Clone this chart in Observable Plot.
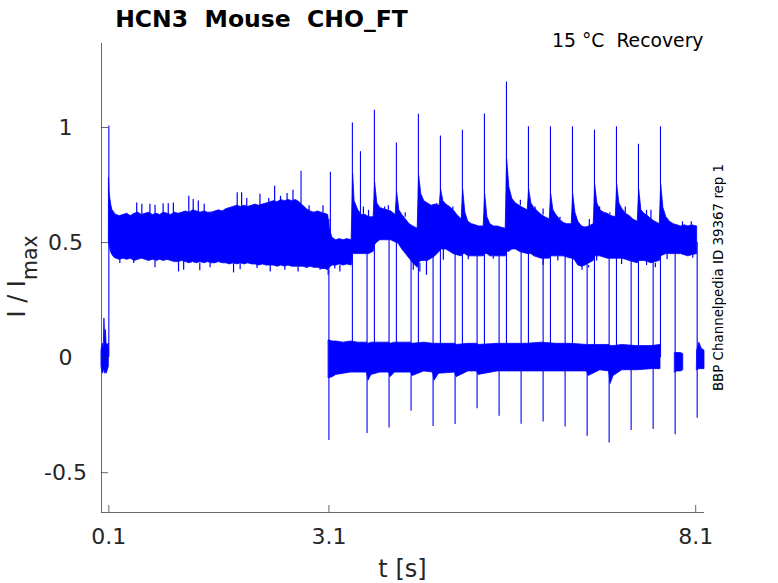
<!DOCTYPE html>
<html><head><meta charset="utf-8">
<script src="https://cdn.jsdelivr.net/npm/d3@7"></script>
<script src="https://cdn.jsdelivr.net/npm/@observablehq/plot@0.6"></script>
<style>html,body{margin:0;padding:0;background:#fff;} svg{display:block}</style>
</head><body><div id="chart"></div>
<script>
// ---- axes ----
const xDomain = [0, 8.22];
const yDomain = [-0.673, 1.365];
const xTicks = [0.1, 3.1, 8.1];
const yTicks = [-0.5, 0, 0.5, 1];

// ---- holding segment before the first step (t < 0.1 s) ----
const preT  = [0.000, 0.010, 0.020, 0.030, 0.040, 0.050, 0.060, 0.070, 0.080, 0.090, 0.100];
const preHi = [0.03, 0.05, 0.06, 0.04, 0.17, 0.08, 0.12, 0.05, 0.06, 0.05, 0.06];
const preLo = [-0.04, -0.06, -0.07, -0.06, -0.05, -0.07, -0.06, -0.07, -0.06, -0.05, -0.04];

// ---- upper current level (envelope of the noisy trace) ----
const upT  = [0.102,0.110,0.120,0.135,0.150,0.175,0.20,0.25,0.30,0.35,0.40,0.45,0.50,0.55,0.60,0.65,0.70,0.75,0.80,0.85,0.90,0.95,
  1.00,1.05,1.10,1.15,1.20,1.25,1.30,1.35,1.40,1.45,1.50,1.55,1.60,1.65,1.70,1.75,1.80,1.85,1.90,1.95,
  2.00,2.05,2.10,2.15,2.20,2.25,2.30,2.35,2.40,2.45,2.50,2.55,2.60,2.65,2.70,2.75,2.80,2.85,2.90,2.95,3.00,3.05,3.09,
  3.11,3.15,3.20,3.25,3.30,3.35,3.41,3.43,3.45,3.50,3.55,3.60,3.65,3.71,3.73,3.76,3.80,3.85,3.90,3.95,
  4.01,4.03,4.06,4.10,4.15,4.20,4.25,4.31,4.33,4.36,4.40,4.45,4.50,4.55,4.61,4.63,4.66,4.70,4.75,4.80,4.85,4.91,4.93,4.96,
  5.00,5.05,5.10,5.15,5.21,5.23,5.26,5.30,5.35,5.40,5.45,5.51,5.53,5.56,5.60,5.65,5.70,5.75,5.81,5.83,5.86,5.90,5.95,
  6.00,6.05,6.11,6.13,6.16,6.20,6.25,6.30,6.35,6.41,6.43,6.46,6.50,6.55,6.60,6.65,6.71,6.73,6.76,6.80,6.85,6.90,6.95,
  7.01,7.03,7.06,7.10,7.15,7.20,7.25,7.31,7.33,7.36,7.40,7.45,7.50,7.55,7.61,7.63,7.66,7.70,7.75,7.80,7.85,7.90,7.95,
  8.00,8.05,8.12];
const upHi = [0.78,0.72,0.69,0.66,0.64,0.63,0.62,0.615,0.62,0.625,0.615,0.625,0.63,0.62,0.625,0.63,0.62,0.625,0.62,0.63,0.625,0.62,
  0.63,0.625,0.63,0.635,0.63,0.64,0.635,0.63,0.635,0.63,0.63,0.635,0.64,0.635,0.645,0.65,0.655,0.66,0.655,0.66,
  0.655,0.66,0.665,0.66,0.665,0.67,0.675,0.68,0.675,0.685,0.68,0.685,0.68,0.685,0.675,0.66,0.645,0.635,0.63,0.635,0.63,0.625,0.62,
  0.56,0.52,0.51,0.515,0.51,0.515,0.51,0.80,0.68,0.64,0.62,0.62,0.61,0.61,0.76,0.67,0.65,0.645,0.64,0.635,
  0.62,0.72,0.64,0.62,0.60,0.58,0.57,0.56,0.79,0.71,0.68,0.67,0.66,0.665,0.66,0.73,0.68,0.665,0.655,0.64,0.62,0.60,0.73,0.63,
  0.59,0.58,0.575,0.57,0.57,0.71,0.61,0.58,0.57,0.57,0.565,0.56,0.86,0.74,0.69,0.67,0.66,0.65,0.64,0.73,0.67,0.65,0.635,
  0.62,0.61,0.60,0.71,0.64,0.62,0.60,0.585,0.58,0.58,0.71,0.63,0.59,0.57,0.565,0.57,0.58,0.75,0.67,0.64,0.63,0.625,0.615,
  0.61,0.75,0.67,0.645,0.625,0.615,0.60,0.59,0.73,0.64,0.625,0.615,0.60,0.59,0.58,0.75,0.65,0.61,0.59,0.58,0.575,0.57,0.575,
  0.57,0.575,0.57];
const upLo = [0.50,0.49,0.47,0.455,0.445,0.435,0.43,0.425,0.43,0.425,0.43,0.42,0.425,0.43,0.425,0.42,0.425,0.42,0.425,0.42,0.425,0.42,
  0.415,0.415,0.42,0.415,0.41,0.415,0.41,0.415,0.41,0.415,0.41,0.41,0.415,0.41,0.41,0.405,0.41,0.405,0.41,0.405,
  0.41,0.405,0.405,0.40,0.405,0.40,0.40,0.40,0.395,0.40,0.395,0.40,0.395,0.395,0.395,0.395,0.39,0.395,0.39,0.39,0.385,0.385,0.38,
  0.39,0.40,0.40,0.405,0.40,0.405,0.40,0.45,0.45,0.45,0.45,0.45,0.45,0.46,0.49,0.50,0.51,0.51,0.51,0.51,
  0.50,0.50,0.49,0.47,0.45,0.43,0.41,0.39,0.41,0.42,0.42,0.42,0.43,0.44,0.46,0.47,0.47,0.47,0.46,0.45,0.445,0.44,0.45,0.45,
  0.44,0.44,0.44,0.44,0.44,0.45,0.45,0.44,0.44,0.44,0.44,0.44,0.46,0.46,0.47,0.47,0.46,0.455,0.45,0.45,0.45,0.44,0.435,
  0.43,0.43,0.43,0.44,0.44,0.44,0.44,0.44,0.435,0.43,0.43,0.42,0.40,0.395,0.40,0.41,0.42,0.44,0.44,0.44,0.435,0.43,0.43,
  0.43,0.43,0.43,0.43,0.425,0.42,0.415,0.41,0.42,0.42,0.42,0.415,0.41,0.415,0.42,0.44,0.445,0.45,0.45,0.45,0.45,0.45,0.445,
  0.44,0.445,0.45];

// ---- lower (zero) current level: main stretch and two short stubs ----
const lowT   = [3.10,3.15,3.20,3.30,3.40,3.50,3.62,3.64,3.68,3.80,3.92,3.94,4.00,4.22,4.24,4.40,4.52,4.54,4.60,4.82,4.84,5.00,5.12,5.14,
  5.40,5.60,5.80,6.00,6.20,6.40,6.62,6.64,6.80,6.92,6.94,6.98,7.10,7.30,7.50,7.62,
  7.82,7.85,7.90,7.93,
  8.12,8.15,8.18,8.22];
const lowHi  = [0.075,0.07,0.07,0.065,0.07,0.065,0.065,0.06,0.065,0.065,0.065,0.06,0.065,0.065,0.06,0.065,0.06,0.06,0.06,0.06,0.055,0.06,0.06,0.055,
  0.06,0.06,0.06,0.065,0.06,0.06,0.055,0.055,0.055,0.055,0.05,0.05,0.055,0.05,0.05,0.055,
  0.02,0.02,0.02,0.015,
  0.03,0.065,0.04,0.03];
const lowLo  = [-0.09,-0.085,-0.075,-0.07,-0.065,-0.065,-0.065,-0.10,-0.075,-0.065,-0.065,-0.085,-0.065,-0.065,-0.08,-0.06,-0.065,-0.10,-0.07,-0.065,-0.085,-0.06,-0.06,-0.075,
  -0.06,-0.06,-0.06,-0.06,-0.06,-0.06,-0.06,-0.08,-0.055,-0.06,-0.115,-0.08,-0.055,-0.055,-0.05,-0.05,
  -0.065,-0.06,-0.06,-0.055,
  -0.055,-0.05,-0.05,-0.05];
const lowSeg = [1,1,1,1,1,1,1,1,1,1,1,1,1,1,1,1,1,1,1,1,1,1,1,1,1,1,1,1,1,1,1,1,1,1,1,1,1,1,1,1, 2,2,2,2, 3,3,3,3];

// ---- steps and capacitive spikes (time, from, to) ----
const spikeT    = [0.10, 3.42,3.72,4.02,4.32,4.62,4.92,5.22,5.52,5.82,6.12,6.42,6.72,7.02,7.32,7.62,
  3.10,3.62,3.92,4.22,4.52,4.82,5.12,5.42,5.72,6.02,6.32,6.62,6.92,7.22,7.52,7.82,8.12,
  2.72,3.12,3.53];
const spikeFrom = [0.0, 0,0,0,0,0,0,0,0,0,0,0,0,0,0,0,
  0.60,0.50,0.52,0.50,0.45,0.50,0.48,0.48,0.50,0.48,0.48,0.45,0.48,0.48,0.46,0.50,0.50,
  0.65,0.50,0.60];
const spikeTo   = [1.006, 1.020,1.075,0.933,1.058,0.963,0.988,1.059,1.198,1.003,1.003,1.003,0.988,1.003,0.927,1.003,
  -0.360,-0.330,-0.306,-0.233,-0.299,-0.291,-0.222,-0.255,-0.289,-0.280,-0.302,-0.342,-0.371,-0.317,-0.312,-0.335,-0.263,
  0.81,0.805,0.895];

// ---- noise excursions beyond the band edges (time, from, to) ----
const noiseT    = [0.48,0.55,0.66,0.73,0.84,0.91,0.98,1.19,1.25,1.32,1.40,1.85,1.91,1.98,2.16,2.28,2.36,2.44,2.53,2.61,2.83,3.02,
  0.25,0.44,0.73,1.05,1.12,1.34,1.48,1.80,1.89,2.12,2.30,2.50,2.68,2.80,2.98,3.09,
  3.57,3.64,3.86,3.91,4.14,4.57,4.79,5.71,5.91,6.02,6.25,6.65,6.79,6.93,7.14,7.43,7.49,7.92,8.04,
  3.18,3.25,4.25,4.34,4.43,4.66,5.00,5.34,6.02,6.22,6.55,6.64,6.75,7.09,7.43,7.55,7.71,8.06];
const noiseFrom = [0.62,0.62,0.62,0.62,0.62,0.62,0.62,0.63,0.63,0.63,0.63,0.65,0.65,0.65,0.66,0.67,0.67,0.67,0.68,0.68,0.63,0.63,
  0.43,0.43,0.42,0.415,0.42,0.41,0.41,0.41,0.41,0.405,0.40,0.395,0.395,0.39,0.385,0.38,
  0.62,0.61,0.64,0.64,0.61,0.66,0.64,0.66,0.64,0.62,0.60,0.57,0.64,0.62,0.625,0.615,0.60,0.57,0.575,
  0.40,0.40,0.41,0.41,0.42,0.47,0.44,0.44,0.43,0.44,0.40,0.40,0.44,0.43,0.415,0.41,0.45,0.445];
const noiseTo   = [0.672,0.667,0.667,0.662,0.669,0.669,0.672,0.701,0.687,0.681,0.667,0.716,0.716,0.691,0.710,0.691,0.745,0.701,0.713,0.727,0.66,0.66,
  0.409,0.409,0.391,0.372,0.380,0.377,0.391,0.368,0.382,0.387,0.372,0.380,0.372,0.387,0.380,0.358,
  0.655,0.64,0.655,0.66,0.63,0.67,0.655,0.684,0.655,0.646,0.61,0.60,0.655,0.63,0.655,0.64,0.64,0.59,0.59,
  0.385,0.372,0.38,0.372,0.358,0.423,0.425,0.428,0.40,0.42,0.38,0.39,0.42,0.405,0.40,0.39,0.425,0.432];

// ---- tables built from the arrays ----
const pre   = preT.map((t, i) => ({t, hi: preHi[i], lo: preLo[i]}));
const upper = upT.map((t, i) => ({t, hi: upHi[i], lo: upLo[i]}));
const lower = lowT.map((t, i) => ({t, hi: lowHi[i], lo: lowLo[i], seg: lowSeg[i]}));
const spikes = spikeT.map((t, i) => ({t, from: spikeFrom[i], to: spikeTo[i]}));
const noise = noiseT.map((t, i) => ({t, from: noiseFrom[i], to: noiseTo[i]}));

const BLUE = "#0000ff";
const INK = "#262626";
const W = 778, H = 583, ML = 101, MR = 74, MT = 43, MB = 71;
const PW = W - ML - MR, PH = H - MT - MB;

const chart = Plot.plot({
  width: W, height: H,
  marginLeft: ML, marginRight: MR, marginTop: MT, marginBottom: MB,
  style: {fontFamily: "DejaVu Sans", background: "#fff", overflow: "visible"},
  x: {domain: xDomain},
  y: {domain: yDomain},
  marks: [
    Plot.areaY(pre, {x: "t", y1: "lo", y2: "hi", fill: BLUE, stroke: BLUE, strokeWidth: 0.8}),
    Plot.areaY(upper, {x: "t", y1: "lo", y2: "hi", fill: BLUE, stroke: BLUE, strokeWidth: 0.8}),
    Plot.areaY(lower, {x: "t", y1: "lo", y2: "hi", z: "seg", fill: BLUE, stroke: BLUE, strokeWidth: 0.8}),
    Plot.ruleX(noise, {x: "t", y1: "from", y2: "to", stroke: BLUE, strokeWidth: 1.2}),
    Plot.ruleX(spikes, {x: "t", y1: "from", y2: "to", stroke: BLUE, strokeWidth: 1.1}),
    Plot.ruleX([xDomain[0]], {stroke: INK, strokeWidth: 0.7}),
    Plot.ruleY([yDomain[0]], {stroke: INK, strokeWidth: 0.7}),
    Plot.tickY(yTicks, {y: d => d, stroke: INK, strokeWidth: 0.7, insetRight: PW - 7}),
    Plot.tickX(xTicks, {x: d => d, stroke: INK, strokeWidth: 0.7, insetTop: PH - 7}),
    Plot.axisY(yTicks, {tickSize: 0, tickPadding: 36, textAnchor: "middle", fontSize: 22, fill: INK, label: null, tickFormat: d => String(d)}),
    Plot.axisX(xTicks, {tickSize: 0, tickPadding: 16, fontSize: 22, fill: INK, label: null, tickFormat: d => d.toFixed(1)})
  ]
});

const svg = d3.select(chart);
svg.append("text").attr("x", 261.5).attr("y", 27).attr("text-anchor", "middle")
  .style("white-space", "pre").attr("font-family", "DejaVu Sans").attr("font-weight", "bold")
  .attr("font-size", 23.5).attr("fill", "#000").text("HCN3  Mouse  CHO_FT");
svg.append("text").attr("x", 703.5).attr("y", 47).attr("text-anchor", "end")
  .style("white-space", "pre").attr("font-family", "DejaVu Sans")
  .attr("font-size", 18.8).attr("fill", "#000").text("15 °C  Recovery");
svg.append("text").attr("transform", "translate(723,277.5) rotate(-90)").attr("text-anchor", "middle")
  .attr("font-family", "DejaVu Sans").attr("font-size", 13.4).attr("fill", "#000")
  .text("BBP Channelpedia ID 39367 rep 1");
const yl = svg.append("text").attr("transform", "translate(25,276.5) rotate(-90)").attr("text-anchor", "middle")
  .attr("font-family", "DejaVu Sans").attr("font-size", 24).attr("fill", INK);
yl.append("tspan").text("I / I");
yl.append("tspan").attr("dy", 12).attr("font-size", 20.5).text("max");
svg.append("text").attr("x", 402.5).attr("y", 577).attr("text-anchor", "middle")
  .attr("font-family", "DejaVu Sans").attr("font-size", 24).attr("fill", INK).text("t [s]");

document.getElementById("chart").appendChild(chart);
</script></body></html>
